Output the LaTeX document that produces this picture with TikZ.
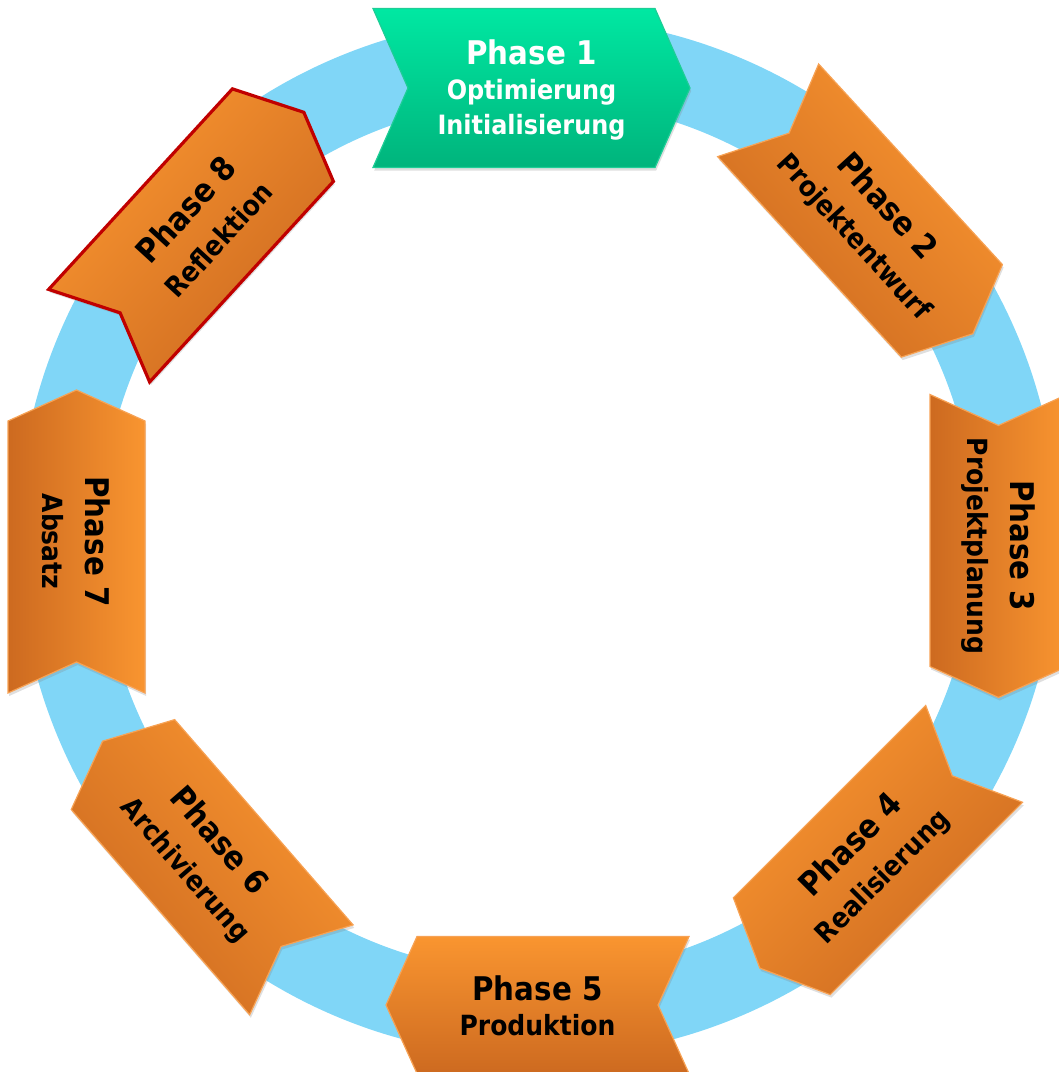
\documentclass[tikz,border=0pt]{standalone}
\usepackage{fontspec}
\IfFontExistsTF{DejaVu Sans Condensed}{\setmainfont{DejaVu Sans Condensed}}{\setmainfont{DejaVu Sans}}
\usetikzlibrary{shadows}

\definecolor{ringblue}{RGB}{128,214,247}
\definecolor{orangelight}{RGB}{249,149,48}
\definecolor{orangedark}{RGB}{205,106,32}
\definecolor{orangeline}{RGB}{247,162,84}
\definecolor{greenlight}{RGB}{0,232,162}
\definecolor{greendark}{RGB}{0,180,124}
\definecolor{greenline}{RGB}{30,205,150}
\definecolor{reflektred}{RGB}{192,0,0}

% length, width, tip depth
\newcommand{\chevronpath}[3]{(-#1/2,-#2/2) -- (#1/2-#3,-#2/2) -- (#1/2,0) -- (#1/2-#3,#2/2) -- (-#1/2,#2/2) -- (-#1/2+#3,0) -- cycle}
\newcommand{\phasefont}{\fontsize{16.3}{18}\selectfont}

\begin{document}
\begin{tikzpicture}
    [x=0.5pt, y=0.5pt,
     orangebox/.style={draw=orangeline, line width=0.6pt, top color=orangelight, bottom color=orangedark,
       drop shadow={opacity=0.25, shadow xshift=0.6pt, shadow yshift=-1.5pt}},
     greenbox/.style={draw=greenline, line width=0.6pt, top color=greenlight, bottom color=greendark,
       drop shadow={opacity=0.25, shadow xshift=0.6pt, shadow yshift=-1.5pt}},
     phasetext/.style={align=center, text=black, font=\bfseries\fontsize{13.9}{17.5}\selectfont},
     turnedtext/.style={phasetext, font=\bfseries\fontsize{13.9}{21.5}\selectfont}]
    \useasboundingbox (0,0) rectangle (1059,-1072);
    \coordinate (hub) at (538,-537);
    \fill[ringblue, even odd rule] (hub) circle (520) (hub) circle (437);

    % phase 1
    \begin{scope}[shift={(531.5,-88)}]
      \draw[greenbox] \chevronpath{317}{159}{35};
    \end{scope}
    \node[phasetext, text=white, font=\bfseries\fontsize{13.3}{17.5}\selectfont] (phase1) at (531.5,-90)
      {{\phasefont Phase 1}\\Optimierung\\Initialisierung};

    % phase 5
    \begin{scope}[shift={(537.5,-1005)}, xscale=-1]
      \draw[orangebox] \chevronpath{303}{137}{31};
    \end{scope}
    \node[phasetext] (phase5) at (537.5,-1006) {{\phasefont Phase 5}\\Produktion};

    % turned phases
    \foreach \px/\py/\rot/\flip/\num/\txt in {870.5/-222/-47.5/1/2/Projektentwurf,
        998.5/-546/-90/1/3/Projektplanung, 867/-861/45/-1/4/Realisierung,
        202/-855.5/-49/-1/6/Archivierung, 76.5/-541.5/-90/-1/7/Absatz} {
      \begin{scope}[shift={(\px,\py)}, rotate=\rot, xscale=\flip]
        \draw[orangebox, shading angle=\rot] \chevronpath{303}{137}{31};
      \end{scope}
      \node[turnedtext, rotate=\rot] (phase\num) at (\px,\py) {{\phasefont Phase \num}\\\txt};
    }

    % phase 8
    \begin{scope}[shift={(201.5,-224)}, rotate=47.5]
      \draw[orangebox, shading angle=47.5, draw=reflektred, line width=1.6pt] \chevronpath{303}{137}{31};
    \end{scope}
    \node[turnedtext, rotate=47.5] (phase8) at (201.5,-224) {{\phasefont Phase 8}\\Reflektion};
  \end{tikzpicture}
\end{document}
